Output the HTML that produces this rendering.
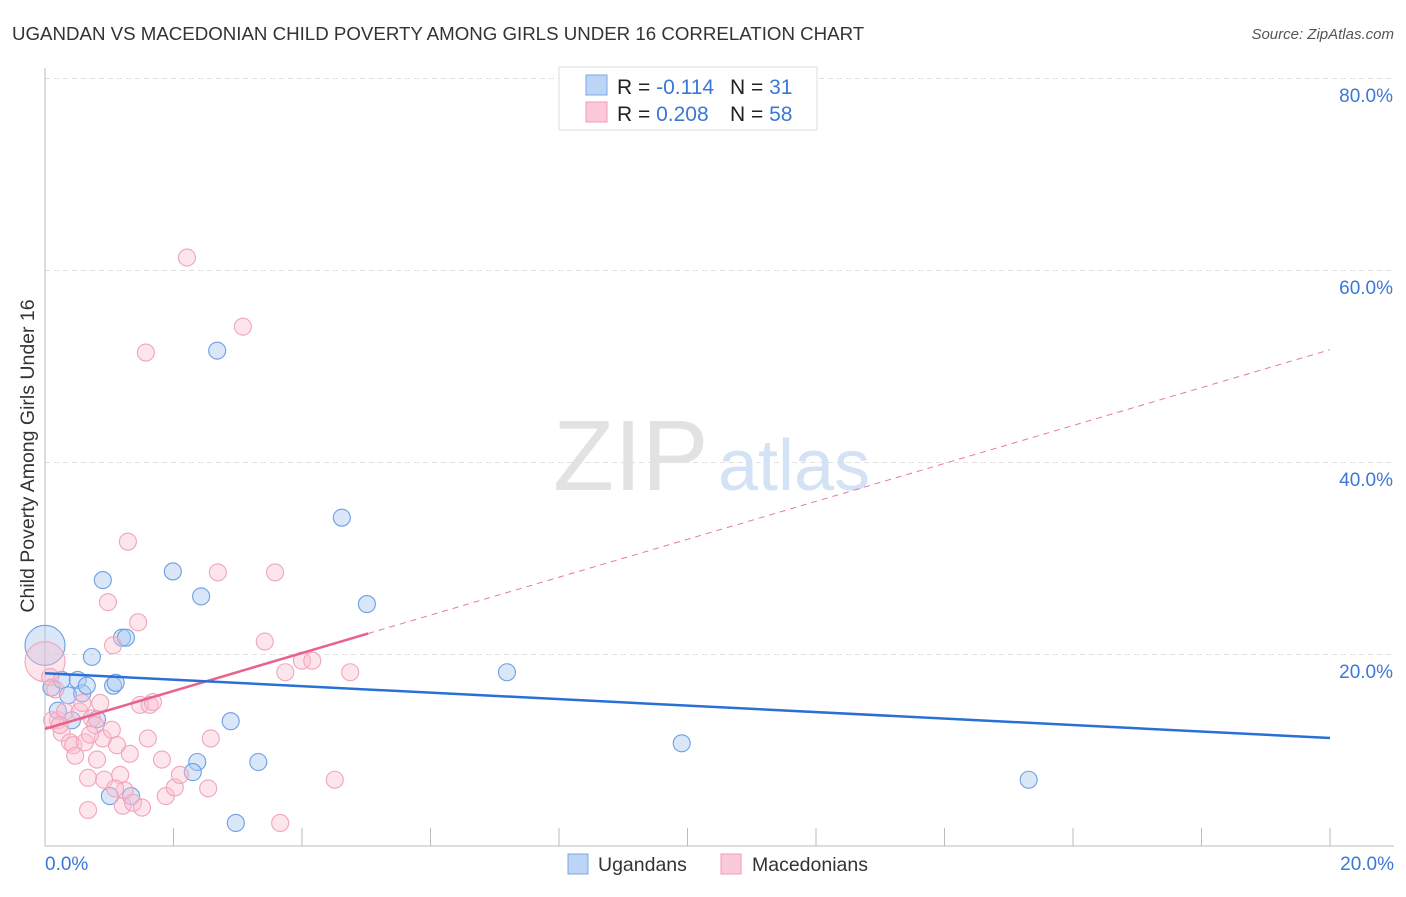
<!DOCTYPE html>
<html><head><meta charset="utf-8"><style>
body{margin:0;background:#fff;font-family:"Liberation Sans",sans-serif;}
svg text{font-family:"Liberation Sans",sans-serif;}
</style></head><body>
<svg id="chart" width="1406" height="892">
<text x="12" y="40" font-size="18.7" fill="#333">UGANDAN VS MACEDONIAN CHILD POVERTY AMONG GIRLS UNDER 16 CORRELATION CHART</text>
<text x="1394" y="39" font-size="15" fill="#555" font-style="italic" text-anchor="end">Source: ZipAtlas.com</text>
<g id="grid"></g>
<text x="553" y="490" font-size="100" fill="#e2e2e2" font-family="Liberation Serif,serif">ZIP</text>
<text x="718" y="490" font-size="72" fill="#d3e2f5">atlas</text>
<text transform="translate(34,456) rotate(-90)" font-size="19.5" fill="#333" text-anchor="middle">Child Poverty Among Girls Under 16</text>
<g id="marks"></g>
<g>
<rect x="559" y="67" width="258" height="63" fill="#fff" stroke="#ddd"/>
<rect x="586" y="75" width="21" height="20" fill="#bcd5f5" stroke="#7aa7e6"/>
<rect x="586" y="102" width="21" height="20" fill="#fcc9d8" stroke="#f09ab4"/>
<text x="617" y="94" font-size="21" fill="#222">R = <tspan fill="#3a78d6">-0.114</tspan></text>
<text x="730" y="94" font-size="21" fill="#222">N = <tspan fill="#3a78d6"> 31</tspan></text>
<text x="617" y="121" font-size="21" fill="#222">R = <tspan fill="#3a78d6">0.208</tspan></text>
<text x="730" y="121" font-size="21" fill="#222">N = <tspan fill="#3a78d6">58</tspan></text>
</g>
<g>
<rect x="568" y="854" width="20" height="20" fill="#bcd5f5" stroke="#7aa7e6"/>
<text x="598" y="871" font-size="19.5" fill="#333">Ugandans</text>
<rect x="721" y="854" width="20" height="20" fill="#fcc9d8" stroke="#f09ab4"/>
<text x="752" y="871" font-size="19.5" fill="#333">Macedonians</text>
</g>
</svg>
<script>
const yTicks=[20,40,60,80];
const yTickLabels=["20.0%","40.0%","60.0%","80.0%"];
const xTicks=[0,2,4,6,8,10,12,14,16,18,20];
const ugX=[0,0.1,0.26,0.36,0.51,0.58,0.65,0.73,0.81,0.42,0.2,0.9,1.06,1.1,1.2,1.26,1.01,1.34,1.99,2.37,2.3,2.43,2.68,2.89,2.97,3.32,4.62,5.01,7.19,9.91,15.31];
const ugY=[20.9,16.5,17.3,15.7,17.3,15.9,16.7,19.7,13.2,13.1,14.1,27.7,16.7,17.0,21.7,21.7,5.2,5.2,28.6,8.75,7.7,26.0,51.6,13.0,2.4,8.75,34.2,25.2,18.1,10.7,6.9];
const mkX=[0,0.08,0.16,0.2,0.26,0.31,0.39,0.44,0.47,0.54,0.58,0.62,0.67,0.67,0.73,0.81,0.86,0.9,0.92,0.98,1.04,1.06,1.12,1.17,1.21,1.24,1.29,1.32,1.37,1.45,1.48,1.51,1.57,1.6,1.63,1.68,1.82,1.88,2.02,2.1,2.21,2.54,2.58,2.69,3.08,3.42,3.58,3.66,3.74,4.0,4.16,4.51,4.75,0.11,0.23,0.78,1.09,0.7];
const mkY=[19.2,17.6,16.3,13.1,11.8,14.0,10.8,10.5,9.4,14.0,14.9,10.8,7.1,3.75,13.3,9.0,14.9,11.2,6.9,25.4,12.1,20.9,10.5,7.4,4.2,5.8,31.7,9.6,4.5,23.3,14.7,4.0,51.4,11.2,14.7,15.0,9.0,5.2,6.1,7.4,61.3,6.0,11.2,28.5,54.1,21.3,28.5,2.4,18.1,19.3,19.3,6.9,18.1,13.1,12.6,12.6,6.0,11.6];
const ugTrend=[18.0,11.25];
const mkTrend=[12.2,51.7];
const mkSolidEnd=5.03;
const X=v=>45+v/20*1285, Y=v=>846-v*9.6;
const NS="http://www.w3.org/2000/svg";
function mk(tag,attrs,parent){const e=document.createElementNS(NS,tag);for(const k in attrs)e.setAttribute(k,attrs[k]);parent.appendChild(e);return e;}
const grid=document.getElementById('grid');
yTicks.forEach((t,i)=>{
 const l=mk('line',{x1:45,x2:1394,y1:Y(t)+0.5,y2:Y(t)+0.5,stroke:'#e2e2e2','stroke-dasharray':'5,4'},grid);
 
 
 const tx=mk('text',{x:1393,y:Y(t)+24,'font-size':19,fill:'#3a78d6','text-anchor':'end'},grid);
 tx.textContent=yTickLabels[i];
 
 
});
const ax=mk('line',{x1:45,x2:1394,y1:846,y2:846,stroke:'#bbb'},grid);


const ay=mk('line',{x1:45,x2:45,y1:68,y2:846,stroke:'#bbb'},grid);


xTicks.forEach(t=>{
 const l=mk('line',{x1:X(t),x2:X(t),y1:828,y2:846,stroke:'#bbb'},grid);
 
 
});
const xl0=mk('text',{x:45,y:870,'font-size':19,fill:'#3a78d6'},grid);xl0.textContent="0.0%";


const xl1=mk('text',{x:1394,y:870,'font-size':19,fill:'#3a78d6','text-anchor':'end'},grid);xl1.textContent="20.0%";


const marks=document.getElementById('marks');
ugX.forEach((v,i)=>{
 const c=mk('circle',{cx:X(v),cy:Y(ugY[i]),r:i==0?20:8.5,fill:'rgba(170,202,242,0.45)',stroke:'#6d9fe3','stroke-width':1.1},marks);
 
 
});
mkX.forEach((v,i)=>{
 const c=mk('circle',{cx:X(v),cy:Y(mkY[i]),r:i==0?20:8.5,fill:'rgba(250,190,208,0.4)',stroke:'#f0a5bc','stroke-width':1.1},marks);
 
 
});
const ml=v=>mkTrend[0]+(mkTrend[1]-mkTrend[0])*v/20;
const pd=mk('line',{x1:X(mkSolidEnd),y1:Y(ml(mkSolidEnd)),x2:X(20),y2:Y(mkTrend[1]),stroke:'#e87a9c','stroke-width':1,'stroke-dasharray':'6,5'},marks);


const ps=mk('line',{x1:X(0),y1:Y(mkTrend[0]),x2:X(mkSolidEnd),y2:Y(ml(mkSolidEnd)),stroke:'#e8628c','stroke-width':2.5},marks);


const ut=mk('line',{x1:X(0),y1:Y(ugTrend[0]),x2:X(20),y2:Y(ugTrend[1]),stroke:'#2a6fd6','stroke-width':2.5},marks);


</script>
</body></html>
